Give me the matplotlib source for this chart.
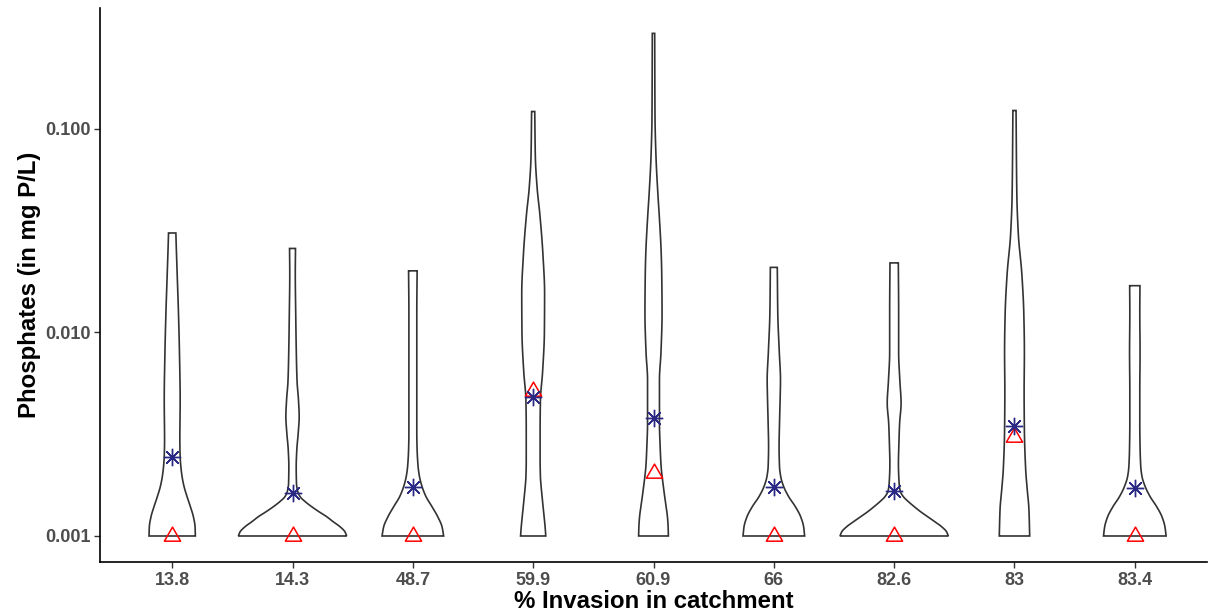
import numpy as np
import matplotlib
matplotlib.use("Agg")
import matplotlib.pyplot as plt
from matplotlib.path import Path

plt.rcParams['font.family'] = ['Liberation Sans', 'DejaVu Sans']

# Categories (% invasion in catchment)
categories = ["13.8", "14.3", "48.7", "59.9", "60.9", "66", "82.6", "83", "83.4"]

# Median and mean phosphate concentration (mg P/L) per catchment
medians = [0.001, 0.001, 0.001, 0.00514, 0.00203, 0.001, 0.001, 0.00305, 0.001]
means = [0.00244, 0.00163, 0.00175, 0.00482, 0.0038, 0.00175, 0.00166, 0.00348, 0.00173]

# Violin density profiles: log10 concentration levels and relative density
# (1.0 = widest violin in the plot)
lev_138 = [-3.0, -2.954, -2.905, -2.856, -2.807, -2.758, -2.709, -2.659, -2.610, -2.528, -2.332, -2.097, -1.905, -1.713, -1.559, -1.511]
den_138 = [0.428, 0.422, 0.391, 0.336, 0.275, 0.220, 0.183, 0.160, 0.147, 0.141, 0.147, 0.134, 0.116, 0.092, 0.073, 0.068]

lev_143 = [-3.0, -2.979, -2.954, -2.930, -2.905, -2.881, -2.856, -2.831, -2.807, -2.782, -2.741, -2.659, -2.577, -2.495, -2.414, -2.332, -2.240, -2.097, -1.905, -1.713, -1.587]
den_143 = [1.0, 0.967, 0.875, 0.752, 0.630, 0.490, 0.354, 0.233, 0.141, 0.097, 0.073, 0.068, 0.079, 0.105, 0.123, 0.110, 0.084, 0.070, 0.059, 0.051, 0.055]

lev_487 = [-3.0, -2.954, -2.905, -2.856, -2.807, -2.758, -2.709, -2.659, -2.577, -2.495, -2.332, -2.097, -1.905, -1.697]
den_487 = [0.569, 0.538, 0.459, 0.354, 0.244, 0.171, 0.123, 0.097, 0.079, 0.073, 0.073, 0.073, 0.073, 0.079]

lev_599 = [-3.0, -2.954, -2.905, -2.856, -2.807, -2.758, -2.709, -2.627, -2.479, -2.332, -2.193, -2.001, -1.808, -1.616, -1.424, -1.289, -1.136, -0.914]
den_599 = [0.233, 0.220, 0.202, 0.183, 0.165, 0.147, 0.134, 0.128, 0.128, 0.134, 0.174, 0.207, 0.211, 0.180, 0.125, 0.073, 0.040, 0.029]

lev_609 = [-3.0, -2.954, -2.905, -2.856, -2.807, -2.758, -2.709, -2.659, -2.561, -2.446, -2.332, -2.233, -2.097, -1.905, -1.713, -1.616, -1.424, -1.328, -1.136, -0.943, -0.530]
den_609 = [0.275, 0.270, 0.257, 0.233, 0.207, 0.183, 0.160, 0.141, 0.123, 0.110, 0.110, 0.110, 0.138, 0.158, 0.152, 0.143, 0.106, 0.083, 0.046, 0.028, 0.022]

lev_66 = [-3.0, -2.954, -2.905, -2.856, -2.807, -2.758, -2.709, -2.659, -2.561, -2.446, -2.332, -2.233, -2.097, -1.905, -1.680]
den_66 = [0.569, 0.550, 0.495, 0.398, 0.275, 0.183, 0.128, 0.105, 0.097, 0.105, 0.116, 0.123, 0.101, 0.073, 0.064]

lev_826 = [-3.0, -2.979, -2.954, -2.930, -2.905, -2.881, -2.856, -2.831, -2.807, -2.782, -2.741, -2.643, -2.561, -2.446, -2.347, -2.240, -2.097, -1.905, -1.658]
den_826 = [1.0, 0.967, 0.875, 0.752, 0.618, 0.490, 0.372, 0.262, 0.171, 0.116, 0.092, 0.079, 0.086, 0.101, 0.128, 0.106, 0.083, 0.083, 0.077]

lev_83 = [-3.0, -2.866, -2.770, -2.674, -2.481, -2.289, -2.097, -1.905, -1.713, -1.520, -1.328, -0.909]
den_83 = [0.281, 0.266, 0.235, 0.207, 0.183, 0.178, 0.183, 0.172, 0.136, 0.072, 0.044, 0.029]

lev_834 = [-3.0, -2.954, -2.905, -2.856, -2.807, -2.758, -2.709, -2.659, -2.561, -2.446, -2.289, -2.097, -1.905, -1.770]
den_834 = [0.578, 0.556, 0.501, 0.404, 0.284, 0.193, 0.134, 0.110, 0.097, 0.092, 0.092, 0.097, 0.092, 0.095]

levels = [lev_138, lev_143, lev_487, lev_599, lev_609, lev_66, lev_826, lev_83, lev_834]
densities = [den_138, den_143, den_487, den_599, den_609, den_66, den_826, den_83, den_834]

yticks = [0.001, 0.01, 0.1]
ytick_labels = ["0.001", "0.010", "0.100"]


def pchip(x, y, xn):
    """Monotone piecewise cubic Hermite interpolation (Fritsch-Carlson)."""
    x = np.asarray(x, float)
    y = np.asarray(y, float)
    h = np.diff(x)
    d = np.diff(y) / h
    m = np.zeros_like(y)
    m[0], m[-1] = d[0], d[-1]
    for k in range(1, len(x) - 1):
        if d[k - 1] * d[k] > 0:
            w1 = 2 * h[k] + h[k - 1]
            w2 = h[k] + 2 * h[k - 1]
            m[k] = (w1 + w2) / (w1 / d[k - 1] + w2 / d[k])
    idx = np.clip(np.searchsorted(x, xn) - 1, 0, len(x) - 2)
    t = (xn - x[idx]) / h[idx]
    h00 = 2 * t**3 - 3 * t**2 + 1
    h10 = t**3 - 2 * t**2 + t
    h01 = -2 * t**3 + 3 * t**2
    h11 = t**3 - t**2
    return (h00 * y[idx] + h10 * h[idx] * m[idx]
            + h01 * y[idx + 1] + h11 * h[idx] * m[idx + 1])


fig = plt.figure(figsize=(12.23, 6.13), dpi=100)
ax = fig.add_axes([100 / 1223, 51 / 613, 1107 / 1223, 554 / 613])

half_max = 0.45
for i, (lev, den) in enumerate(zip(levels, densities)):
    pos = i + 1
    ly = np.linspace(lev[0], lev[-1], 500)
    w = np.clip(pchip(lev, den, ly), 0, None) * half_max
    y = 10 ** ly
    xs = np.concatenate([pos + w, (pos - w)[::-1]])
    ys = np.concatenate([y, y[::-1]])
    ax.fill(xs, ys, facecolor="white", edgecolor="#333333", linewidth=1.2, zorder=2,
            joinstyle="miter")

# Equilateral triangle marker centred on its centroid
tri = Path([(-1, -0.577), (1, -0.577), (0, 1.155), (-1, -0.577)],
           [Path.MOVETO, Path.LINETO, Path.LINETO, Path.CLOSEPOLY])
xpos = np.arange(1, len(categories) + 1)
ax.plot(xpos, medians, linestyle="none", marker=tri, markersize=13.5,
        markerfacecolor="none", markeredgecolor="#FF0000", markeredgewidth=1.1, zorder=3)
ax.plot(xpos, means, linestyle="none", marker=(8, 2, 0), markersize=12.5,
        color="#2a2a85", markeredgewidth=1.0, zorder=4)

ax.set_yscale("log")
ax.set_ylim(10 ** -3.1278, 10 ** -0.4054)
ax.set_xlim(0.4, 9.6)
ax.set_xticks(xpos)
ax.set_xticklabels(categories)
ax.set_yticks(yticks)
ax.set_yticklabels(ytick_labels)
ax.yaxis.set_minor_locator(matplotlib.ticker.NullLocator())

for lab in ax.get_xticklabels() + ax.get_yticklabels():
    lab.set_fontweight("bold")
    lab.set_color("#4D4D4D")
    lab.set_fontsize(13)
ax.tick_params(axis="both", length=4, width=1.0, color="#333333", pad=3)

ax.spines["top"].set_visible(False)
ax.spines["right"].set_visible(False)
for s in ("left", "bottom"):
    ax.spines[s].set_linewidth(1.2)
    ax.spines[s].set_color("black")

ax.set_xlabel("% Invasion in catchment", fontsize=17.3, fontweight="bold", labelpad=1)
ax.set_ylabel("Phosphates (in mg P/L)", fontsize=17.3, fontweight="bold", labelpad=3)

fig.savefig("out.png", dpi=100, facecolor="white")
